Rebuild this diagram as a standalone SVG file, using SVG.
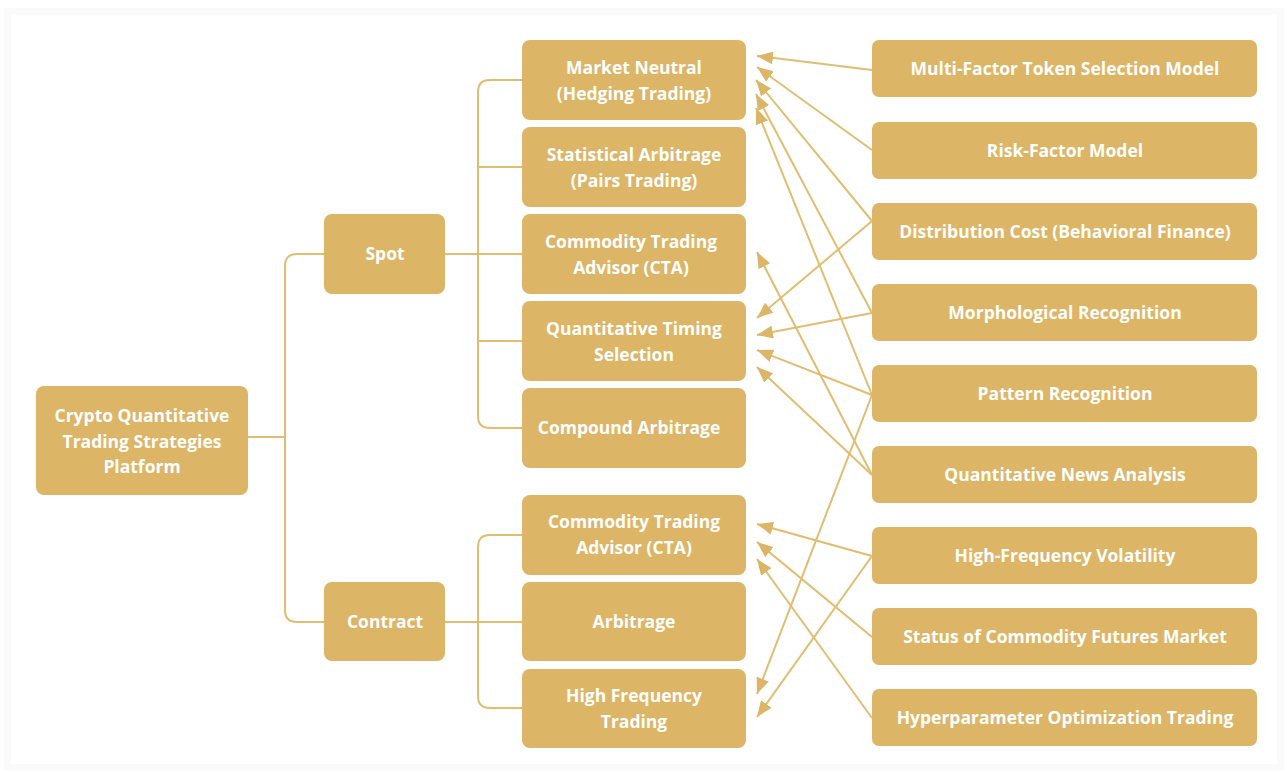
<svg xmlns="http://www.w3.org/2000/svg" width="1287" height="774" viewBox="0 0 1287 774">
<style>
.box{fill:#DCB566;}
.t{font-family:"Open Sans","DejaVu Sans",sans-serif;font-weight:700;font-size:17.5px;fill:#FFFFFF;text-anchor:middle;}
.tree{fill:none;stroke:#E0BD70;stroke-width:2;}
.arr{fill:none;stroke:#E0BD70;stroke-width:2;marker-end:url(#ah);}
</style>
<defs>
<marker id="ah" markerUnits="userSpaceOnUse" markerWidth="17" markerHeight="13" refX="16" refY="6.5" orient="auto">
<path d="M0,0 L16,6.5 L0,13 Z" fill="#DCB566"/>
</marker>
</defs>
<rect x="0" y="0" width="1287" height="774" fill="#FFFFFF"/>
<rect x="4" y="8" width="1280" height="763" fill="#FAFAFA"/>
<rect x="11" y="15" width="1266" height="749" fill="#FFFFFF"/>

<g id="connectors">
<path class="tree" d="M248,437 H285"/>
<path class="tree" d="M324,254 H297 Q285,254 285,266 V610 Q285,622 297,622 H324"/>
<path class="tree" d="M445,254 H522"/>
<path class="tree" d="M522,80 H490 Q478,80 478,92 V416 Q478,428 490,428 H522"/>
<path class="tree" d="M478,167 H522 M478,341 H522"/>
<path class="tree" d="M445,622 H522"/>
<path class="tree" d="M522,535 H490 Q478,535 478,547 V696 Q478,708 490,708 H522"/>
<line class="arr" x1="872" y1="70" x2="757" y2="56"/>
<line class="arr" x1="872" y1="150" x2="757" y2="67"/>
<line class="arr" x1="872" y1="221" x2="756" y2="80"/>
<line class="arr" x1="872" y1="313" x2="756" y2="94"/>
<line class="arr" x1="872" y1="395" x2="756" y2="108"/>
<line class="arr" x1="872" y1="475" x2="757" y2="252"/>
<line class="arr" x1="872" y1="221" x2="757" y2="318"/>
<line class="arr" x1="872" y1="313" x2="757" y2="335"/>
<line class="arr" x1="872" y1="395" x2="757" y2="350"/>
<line class="arr" x1="872" y1="475" x2="757" y2="367"/>
<line class="arr" x1="872" y1="556" x2="757" y2="524"/>
<line class="arr" x1="872" y1="637" x2="757" y2="542"/>
<line class="arr" x1="872" y1="718" x2="757" y2="559"/>
<line class="arr" x1="872" y1="395" x2="757" y2="694"/>
<line class="arr" x1="872" y1="556" x2="757" y2="717"/>
</g>

<g id="root"><rect class="box" x="36" y="386" width="212" height="109" rx="8"/>
<text class="t" x="142" y="422">Crypto Quantitative</text>
<text class="t" x="142" y="448">Trading Strategies</text>
<text class="t" x="142" y="473">Platform</text></g>

<g id="spot"><rect class="box" x="324" y="214" width="121" height="80" rx="8"/>
<text class="t" x="385" y="260">Spot</text></g>
<g id="contract"><rect class="box" x="324" y="582" width="121" height="79" rx="8"/>
<text class="t" x="385" y="628">Contract</text></g>

<g id="market-neutral"><rect class="box" x="522" y="40" width="224" height="80" rx="8"/>
<text class="t" x="634" y="74">Market Neutral</text>
<text class="t" x="634" y="100">(Hedging Trading)</text></g>
<g id="stat-arb"><rect class="box" x="522" y="127" width="224" height="80" rx="8"/>
<text class="t" x="634" y="161">Statistical Arbitrage</text>
<text class="t" x="634" y="187">(Pairs Trading)</text></g>
<g id="cta-spot"><rect class="box" x="522" y="214" width="224" height="80" rx="8"/>
<text class="t" x="631" y="248">Commodity Trading</text>
<text class="t" x="631" y="274">Advisor (CTA)</text></g>
<g id="quant-timing"><rect class="box" x="522" y="301" width="224" height="80" rx="8"/>
<text class="t" x="634" y="335">Quantitative Timing</text>
<text class="t" x="634" y="361">Selection</text></g>
<g id="compound-arb"><rect class="box" x="522" y="388" width="224" height="80" rx="8"/>
<text class="t" x="629" y="434">Compound Arbitrage</text></g>
<g id="cta-contract"><rect class="box" x="522" y="495" width="224" height="80" rx="8"/>
<text class="t" x="634" y="528">Commodity Trading</text>
<text class="t" x="634" y="554">Advisor (CTA)</text></g>
<g id="arbitrage"><rect class="box" x="522" y="582" width="224" height="79" rx="8"/>
<text class="t" x="634" y="628">Arbitrage</text></g>
<g id="hft"><rect class="box" x="522" y="669" width="224" height="79" rx="8"/>
<text class="t" x="634" y="702">High Frequency</text>
<text class="t" x="634" y="728">Trading</text></g>

<g id="multi-factor"><rect class="box" x="872" y="40" width="385" height="57" rx="7"/>
<text class="t" x="1065" y="75">Multi-Factor Token Selection Model</text></g>
<g id="risk-factor"><rect class="box" x="872" y="122" width="385" height="57" rx="7"/>
<text class="t" x="1065" y="157">Risk-Factor Model</text></g>
<g id="distribution"><rect class="box" x="872" y="203" width="385" height="57" rx="7"/>
<text class="t" x="1065" y="238">Distribution Cost (Behavioral Finance)</text></g>
<g id="morphological"><rect class="box" x="872" y="284" width="385" height="57" rx="7"/>
<text class="t" x="1065" y="319">Morphological Recognition</text></g>
<g id="pattern"><rect class="box" x="872" y="365" width="385" height="57" rx="7"/>
<text class="t" x="1065" y="400">Pattern Recognition</text></g>
<g id="news"><rect class="box" x="872" y="446" width="385" height="57" rx="7"/>
<text class="t" x="1065" y="481">Quantitative News Analysis</text></g>
<g id="hf-vol"><rect class="box" x="872" y="527" width="385" height="57" rx="7"/>
<text class="t" x="1065" y="562">High-Frequency Volatility</text></g>
<g id="status"><rect class="box" x="872" y="608" width="385" height="57" rx="7"/>
<text class="t" x="1065" y="643">Status of Commodity Futures Market</text></g>
<g id="hyper"><rect class="box" x="872" y="689" width="385" height="57" rx="7"/>
<text class="t" x="1065" y="724">Hyperparameter Optimization Trading</text></g>
</svg>
